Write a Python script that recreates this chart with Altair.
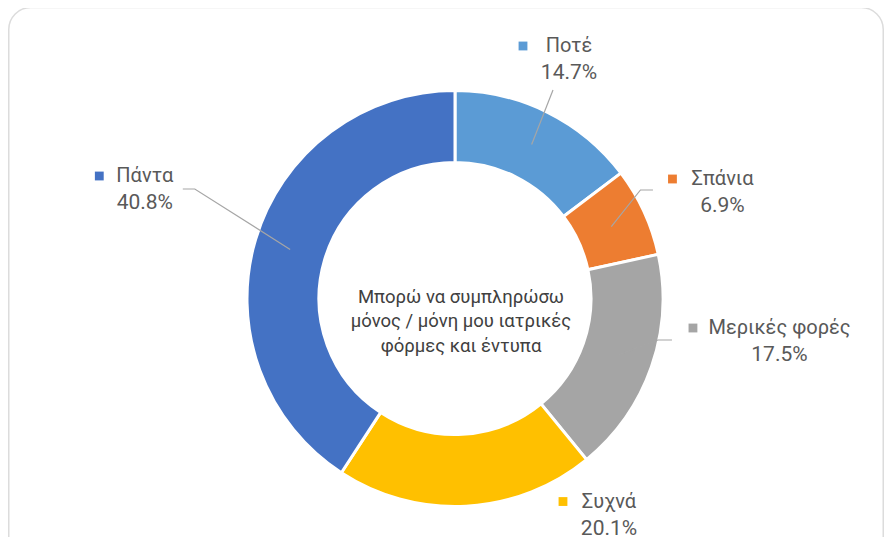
import math
import altair as alt
import pandas as pd

# ---- data ----
categories = ["Ποτέ", "Σπάνια", "Μερικές φορές", "Συχνά", "Πάντα"]
values = [14.7, 6.9, 17.5, 20.1, 40.8]
pct_labels = ["14.7%", "6.9%", "17.5%", "20.1%", "40.8%"]
colors = ["#5B9BD5", "#ED7D31", "#A5A5A5", "#FFC000", "#4472C4"]
center_lines = ["Μπορώ να συμπληρώσω", "μόνος / μόνη μου ιατρικές", "φόρμες και έντυπα"]

# ---- layout ----
W, H = 876, 529
CX, CY = 447, 290.5
R_OUT, R_IN = 208, 136
R_MID = (R_OUT + R_IN) / 2
label_radius = [264.8, 287.7, 327.3, 265.7, 328.8]
label_shift = [-0.96, 3.04, -11.71, -32.36, 2.80]
marker_dx = [-46, -50, -86.5, -46, -45.5]
line_gap = 13.5
leader_offsets = {
    0: [(-16, 30.5)],
    1: [(-69.5, -2.5), (-82, -2.5)],
    2: [(-107.5, -1.5), (-121.5, -1.5)],
    4: [(38, -0.5), (50, -0.5)],
}
FONT = "Roboto"
TXT = "#595959"

total = sum(values)
cum = 0.0
mids = []
for v in values:
    mids.append((cum + v / 2) / total * 360.0)
    cum += v


def polar(r, deg):
    a = math.radians(deg)
    return CX + r * math.sin(a), CY - r * math.cos(a)


slices = pd.DataFrame({"cat": categories, "value": values, "idx": list(range(len(values)))})

lab_rows = []
lead_rows = []
for i, c in enumerate(categories):
    ax, ay = polar(label_radius[i], mids[i] + label_shift[i])
    lab_rows.append({
        "cat": c, "pct": pct_labels[i],
        "x": ax, "ny": ay - line_gap, "py": ay + line_gap,
        "mx": ax + marker_dx[i],
    })
    if i in leader_offsets:
        k = 0
        for (dx, dy) in leader_offsets[i]:
            lead_rows.append({"cat": c, "k": k, "x": ax + dx, "y": ay + dy})
            k += 1
        ex, ey = polar(R_MID, mids[i])
        lead_rows.append({"cat": c, "k": k, "x": ex, "y": ey})

labels = pd.DataFrame(lab_rows)
leads = pd.DataFrame(lead_rows)

color_scale = alt.Scale(domain=categories, range=colors)

card = alt.Chart(alt.Data(values=[{}])).mark_rect(
    fill="white", stroke="#dcdcdc", strokeWidth=1.5, cornerRadius=22
).encode(
    x=alt.value(0.75), x2=alt.value(W - 0.75), y=alt.value(-0.5), y2=alt.value(H + 40)
)

ring = alt.Chart(slices).mark_arc(
    innerRadius=R_IN, outerRadius=R_OUT, stroke="white", strokeWidth=3
).encode(
    theta=alt.Theta("value:Q", stack=True),
    color=alt.Color("cat:N", scale=color_scale, legend=None),
    order=alt.Order("idx:Q"),
    x=alt.value(CX), y=alt.value(CY),
)

leaders = alt.Chart(leads).mark_line(color="#A6A6A6", strokeWidth=1.2).encode(
    x=alt.X("x:Q", scale=None), y=alt.Y("y:Q", scale=None),
    detail="cat:N", order="k:Q",
)

markers = alt.Chart(labels).mark_point(shape="square", filled=True, size=78, opacity=1).encode(
    x=alt.X("mx:Q", scale=None), y=alt.Y("ny:Q", scale=None),
    color=alt.Color("cat:N", scale=color_scale, legend=None),
)

names = alt.Chart(labels).mark_text(
    font=FONT, fontSize=20, color=TXT, align="center", baseline="middle"
).encode(x=alt.X("x:Q", scale=None), y=alt.Y("ny:Q", scale=None), text="cat:N")

pcts = alt.Chart(labels).mark_text(
    font=FONT, fontSize=21, color=TXT, align="center", baseline="middle"
).encode(x=alt.X("x:Q", scale=None), y=alt.Y("py:Q", scale=None), text="pct:N")

center = alt.Chart(alt.Data(values=[{}])).mark_text(
    font=FONT, fontSize=18.5, color="#404040", align="center", baseline="middle",
    lineHeight=24.5, text=center_lines,
).encode(x=alt.value(CX + 6), y=alt.value(CY - 2))

chart = alt.layer(card, ring, leaders, markers, names, pcts, center).properties(
    width=W, height=H, padding=0, autosize=alt.AutoSizeParams(type="none")
).configure_view(strokeWidth=0)

chart.save("out.html", embed_options={"renderer": "svg", "actions": False})
